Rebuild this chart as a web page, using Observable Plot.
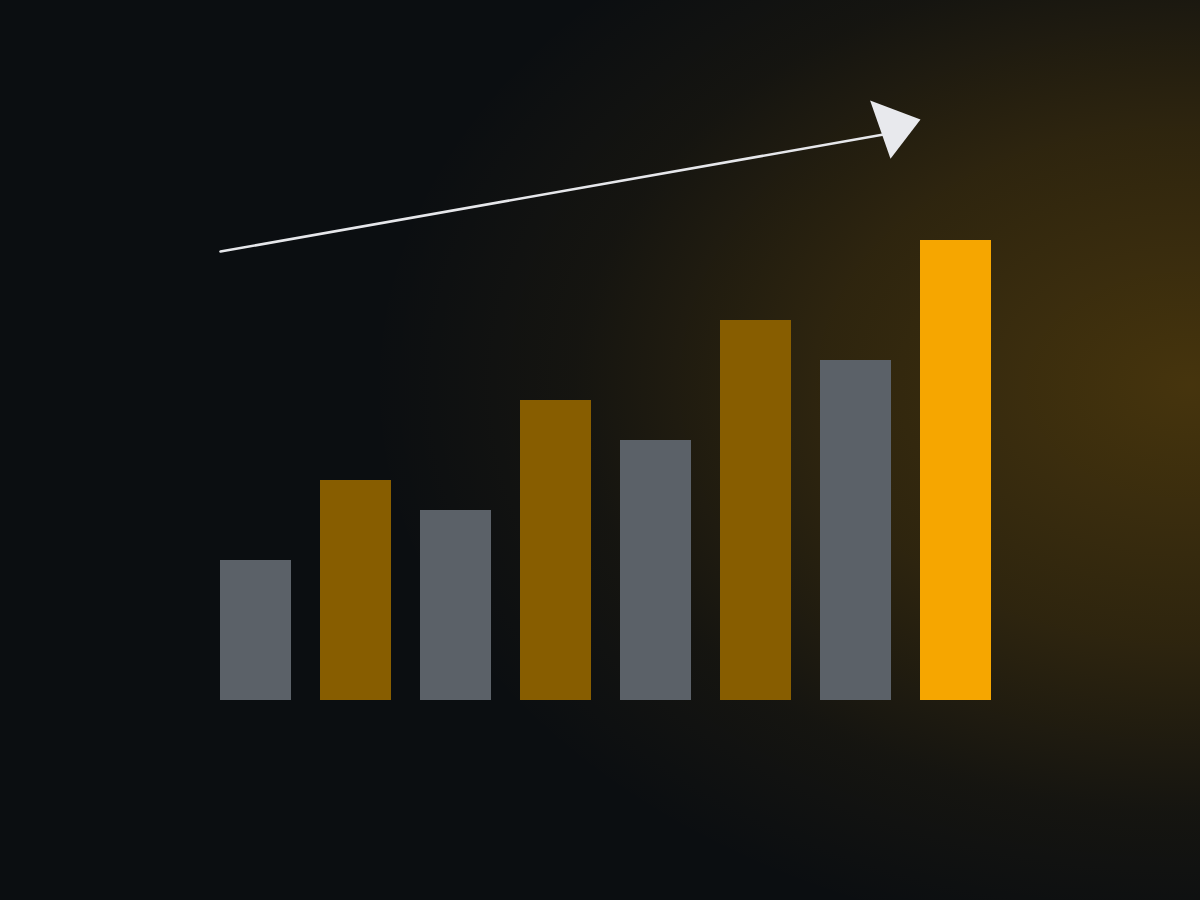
<!DOCTYPE html>
<html>
<head>
<meta charset="utf-8">
<script src="https://cdn.jsdelivr.net/npm/d3@7"></script>
<script src="https://cdn.jsdelivr.net/npm/@observablehq/plot@0.6"></script>
<style>
  html, body { margin: 0; padding: 0; width: 1200px; height: 900px; overflow: hidden; }
  body {
    background-color: #0b0e11;
    background-image: radial-gradient(ellipse 820px 570px at 1190px 385px,
      rgba(245,166,0,0.25) 0%,
      rgba(245,166,0,0.15) 45%,
      rgba(245,166,0,0.045) 75%,
      rgba(245,166,0,0) 100%);
  }
  #chart svg { display: block; }
</style>
</head>
<body>
<div id="chart"></div>
<script>
// Data
const categories = ["A", "B", "C", "D", "E", "F", "G", "H"];
const values = [14, 22, 19, 30, 26, 38, 34, 46];
const tiers = ["muted", "accent", "muted", "accent", "muted", "accent", "muted", "highlight"];

// Trend arrow (start at first category, end at last category)
const arrowStart = {cat: "A", value: 44.9};
const arrowShaftEnd = {cat: "H", value: 57.25};
const arrowTip = {cat: "H", value: 58.1};

const bars = categories.map((c, i) => ({cat: c, value: values[i], tier: tiers[i]}));

const bandwidth = 71;
const halfBand = -bandwidth / 2;

// custom filled arrowhead with its tip at the origin
const headSymbol = {
  draw(context) {
    context.moveTo(0, 0);
    context.lineTo(-50.4, -19);
    context.lineTo(-30, 39.3);
    context.closePath();
  }
};

const chart = Plot.plot({
  width: 1200,
  height: 900,
  marginLeft: 220,
  marginRight: 209,
  marginTop: 200,
  marginBottom: 200,
  style: {background: "transparent", overflow: "visible"},
  x: {domain: categories, paddingInner: 0.29, paddingOuter: 0, axis: null},
  y: {domain: [0, 50], axis: null},
  color: {domain: ["muted", "accent", "highlight"], range: ["#5b6168", "#875d00", "#f6a600"]},
  marks: [
    Plot.barY(bars, {x: "cat", y: "value", fill: "tier"}),
    Plot.arrow([{a: arrowStart, b: arrowShaftEnd}], {
      x1: d => d.a.cat, y1: d => d.a.value,
      x2: d => d.b.cat, y2: d => d.b.value,
      dx: halfBand,
      headLength: 0,
      insetEnd: 26,
      stroke: "#e6e7eb",
      strokeWidth: 2.6
    }),
    Plot.dot([arrowTip], {
      x: "cat", y: "value",
      dx: halfBand,
      symbol: headSymbol,
      r: 20,
      fill: "#e8e9ed",
      stroke: "none"
    })
  ]
});

document.getElementById("chart").appendChild(chart);
</script>
</body>
</html>
